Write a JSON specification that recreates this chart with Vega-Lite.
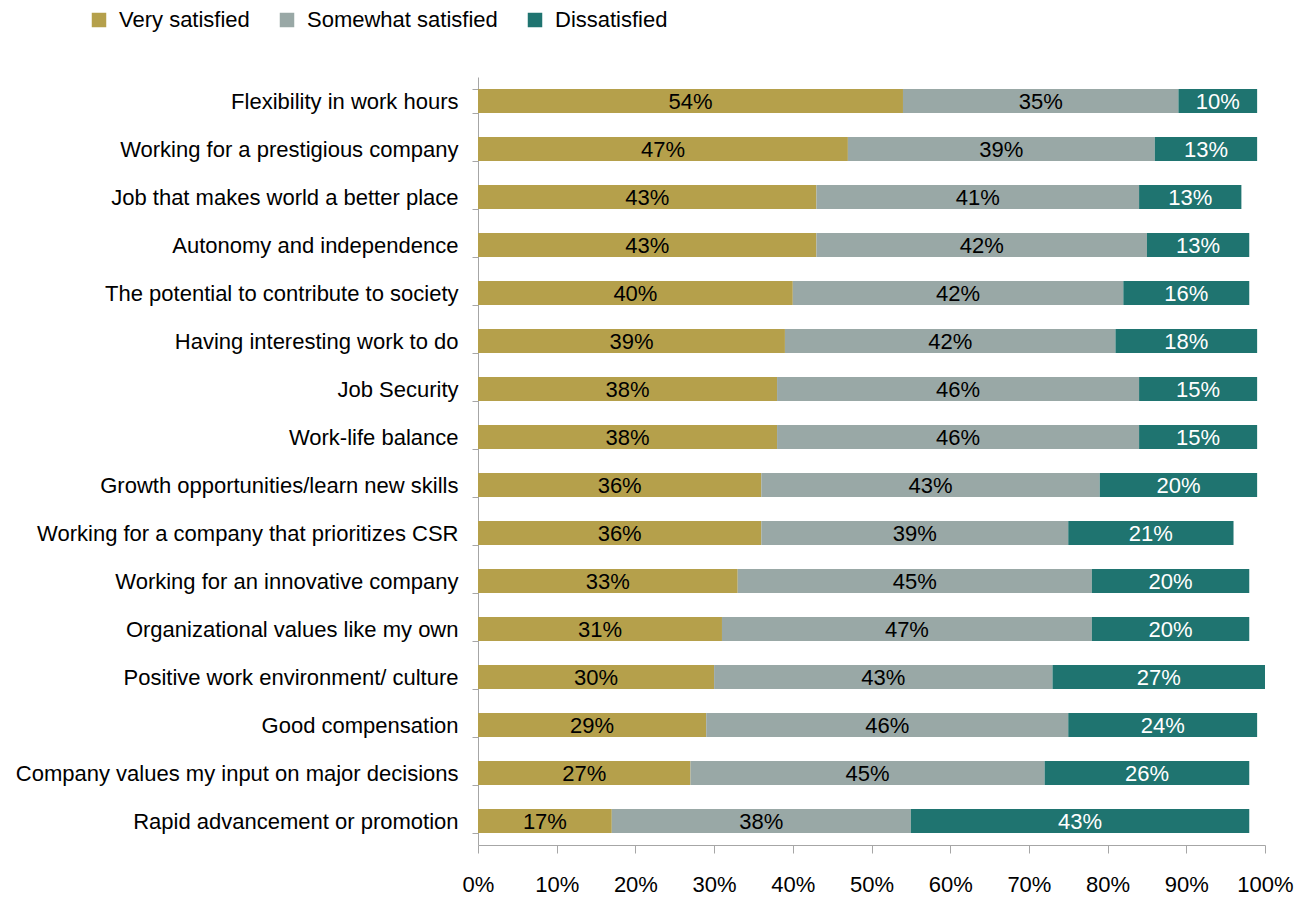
{
  "$schema": "https://vega.github.io/schema/vega-lite/v6.json",
  "width": 787,
  "height": 768,
  "autosize": {"type": "none"},
  "padding": {"left": 478, "top": 77, "right": 42, "bottom": 54},
  "background": "white",
  "config": {
    "font": "Liberation Sans",
    "view": {"stroke": null}
  },
  "data": {
    "values": [
      {"item": "Flexibility in work hours", "level": "Very satisfied", "pct": 54},
      {"item": "Flexibility in work hours", "level": "Somewhat satisfied", "pct": 35},
      {"item": "Flexibility in work hours", "level": "Dissatisfied", "pct": 10},
      {"item": "Working for a prestigious company", "level": "Very satisfied", "pct": 47},
      {"item": "Working for a prestigious company", "level": "Somewhat satisfied", "pct": 39},
      {"item": "Working for a prestigious company", "level": "Dissatisfied", "pct": 13},
      {"item": "Job that makes world a better place", "level": "Very satisfied", "pct": 43},
      {"item": "Job that makes world a better place", "level": "Somewhat satisfied", "pct": 41},
      {"item": "Job that makes world a better place", "level": "Dissatisfied", "pct": 13},
      {"item": "Autonomy and independence", "level": "Very satisfied", "pct": 43},
      {"item": "Autonomy and independence", "level": "Somewhat satisfied", "pct": 42},
      {"item": "Autonomy and independence", "level": "Dissatisfied", "pct": 13},
      {"item": "The potential to contribute to society", "level": "Very satisfied", "pct": 40},
      {"item": "The potential to contribute to society", "level": "Somewhat satisfied", "pct": 42},
      {"item": "The potential to contribute to society", "level": "Dissatisfied", "pct": 16},
      {"item": "Having interesting work to do", "level": "Very satisfied", "pct": 39},
      {"item": "Having interesting work to do", "level": "Somewhat satisfied", "pct": 42},
      {"item": "Having interesting work to do", "level": "Dissatisfied", "pct": 18},
      {"item": "Job Security", "level": "Very satisfied", "pct": 38},
      {"item": "Job Security", "level": "Somewhat satisfied", "pct": 46},
      {"item": "Job Security", "level": "Dissatisfied", "pct": 15},
      {"item": "Work-life balance", "level": "Very satisfied", "pct": 38},
      {"item": "Work-life balance", "level": "Somewhat satisfied", "pct": 46},
      {"item": "Work-life balance", "level": "Dissatisfied", "pct": 15},
      {"item": "Growth opportunities/learn new skills", "level": "Very satisfied", "pct": 36},
      {"item": "Growth opportunities/learn new skills", "level": "Somewhat satisfied", "pct": 43},
      {"item": "Growth opportunities/learn new skills", "level": "Dissatisfied", "pct": 20},
      {"item": "Working for  a company that prioritizes CSR", "level": "Very satisfied", "pct": 36},
      {"item": "Working for  a company that prioritizes CSR", "level": "Somewhat satisfied", "pct": 39},
      {"item": "Working for  a company that prioritizes CSR", "level": "Dissatisfied", "pct": 21},
      {"item": "Working for an innovative company", "level": "Very satisfied", "pct": 33},
      {"item": "Working for an innovative company", "level": "Somewhat satisfied", "pct": 45},
      {"item": "Working for an innovative company", "level": "Dissatisfied", "pct": 20},
      {"item": "Organizational values like my own", "level": "Very satisfied", "pct": 31},
      {"item": "Organizational values like my own", "level": "Somewhat satisfied", "pct": 47},
      {"item": "Organizational values like my own", "level": "Dissatisfied", "pct": 20},
      {"item": "Positive work environment/ culture", "level": "Very satisfied", "pct": 30},
      {"item": "Positive work environment/ culture", "level": "Somewhat satisfied", "pct": 43},
      {"item": "Positive work environment/ culture", "level": "Dissatisfied", "pct": 27},
      {"item": "Good compensation", "level": "Very satisfied", "pct": 29},
      {"item": "Good compensation", "level": "Somewhat satisfied", "pct": 46},
      {"item": "Good compensation", "level": "Dissatisfied", "pct": 24},
      {"item": "Company values my input on major decisions", "level": "Very satisfied", "pct": 27},
      {"item": "Company values my input on major decisions", "level": "Somewhat satisfied", "pct": 45},
      {"item": "Company values my input on major decisions", "level": "Dissatisfied", "pct": 26},
      {"item": "Rapid advancement or promotion", "level": "Very satisfied", "pct": 17},
      {"item": "Rapid advancement or promotion", "level": "Somewhat satisfied", "pct": 38},
      {"item": "Rapid advancement or promotion", "level": "Dissatisfied", "pct": 43}
    ]
  },
  "transform": [
    {"stack": "pct", "groupby": ["item"], "sort": [{"field": "level", "order": "descending"}], "as": ["x0", "x1"]},
    {"calculate": "(datum.x0 + datum.x1) / 2", "as": "mid"},
    {"calculate": "datum.pct + '%'", "as": "label"}
  ],
  "encoding": {
    "y": {
      "field": "item",
      "type": "nominal",
      "sort": null,
      "title": null,
      "scale": {"paddingInner": 0.5, "paddingOuter": 0.25},
      "axis": {
        "tickBand": "extent",
        "domainColor": "#a6a6a6",
        "tickColor": "#a6a6a6",
        "tickSize": 6,
        "labelPadding": 14,
        "labelFontSize": 22,
        "labelColor": "#000000",
        "labelLimit": 480
      }
    }
  },
  "layer": [
    {
      "mark": {"type": "bar"},
      "encoding": {
        "x": {
          "field": "x0",
          "type": "quantitative",
          "scale": {"domain": [0, 100], "nice": false},
          "title": null,
          "axis": {
            "values": [0, 10, 20, 30, 40, 50, 60, 70, 80, 90, 100],
            "labelExpr": "datum.value + '%'",
            "grid": false,
            "domainColor": "#a6a6a6",
            "tickColor": "#a6a6a6",
            "tickSize": 8,
            "labelPadding": 21,
            "labelFontSize": 22,
            "labelColor": "#000000",
            "labelFlush": false
          }
        },
        "x2": {"field": "x1"},
        "color": {
          "field": "level",
          "type": "nominal",
          "sort": ["Very satisfied", "Somewhat satisfied", "Dissatisfied"],
          "scale": {
            "domain": ["Very satisfied", "Somewhat satisfied", "Dissatisfied"],
            "range": ["#b5a04b", "#99a8a6", "#1f7470"]
          },
          "legend": {
            "title": null,
            "orient": "none",
            "direction": "horizontal",
            "legendX": -390,
            "legendY": -68,
            "symbolType": "square",
            "symbolSize": 210,
            "symbolOpacity": 1,
            "labelFontSize": 22,
            "labelColor": "#000000",
            "labelLimit": 400,
            "columnPadding": 26,
            "labelOffset": 9
          }
        }
      }
    },
    {
      "mark": {"type": "text", "fontSize": 22, "align": "center", "baseline": "middle", "dy": 1},
      "encoding": {
        "x": {"field": "mid", "type": "quantitative"},
        "text": {"field": "label", "type": "nominal"},
        "color": {
          "condition": {"test": "datum.level === 'Dissatisfied'", "value": "#ffffff"},
          "value": "#000000"
        }
      }
    }
  ]
}
